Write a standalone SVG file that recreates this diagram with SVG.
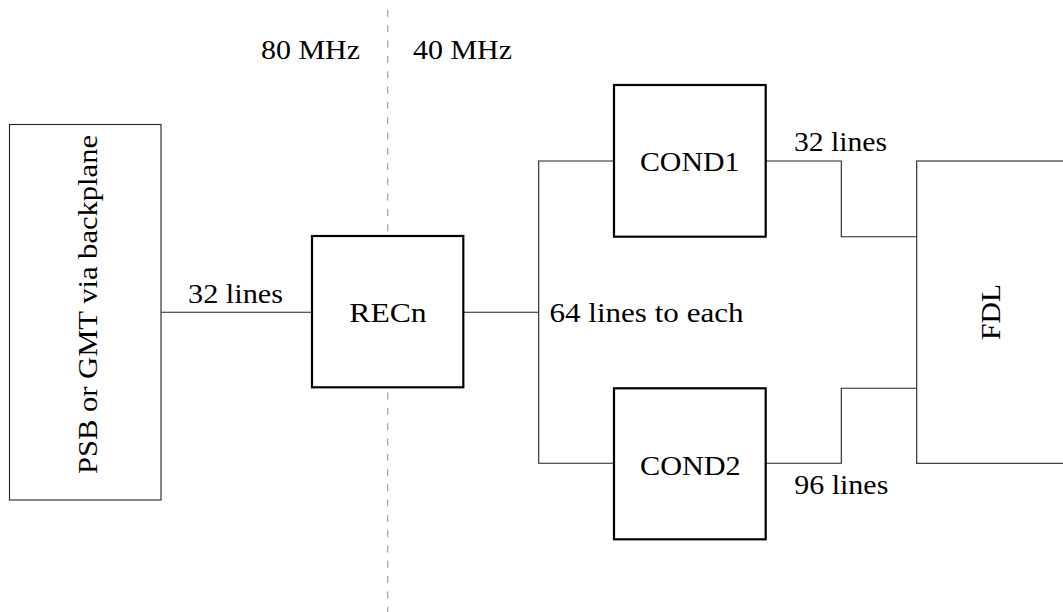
<svg xmlns="http://www.w3.org/2000/svg" width="1063" height="612" viewBox="0 0 1063 612">
<style>
  .thin { fill: none; stroke: #222; stroke-width: 1.1; }
  .thick { fill: #fff; stroke: #000; stroke-width: 2.2; }
  .box { fill: #fff; stroke: #222; stroke-width: 1.1; }
  .dash { fill: none; stroke: #999; stroke-width: 1.1; stroke-dasharray: 7 8.3; }
  .lbl { font-family: 'Liberation Serif', serif; font-size: 28px; fill: #000; }
</style>
<rect width="1063" height="612" fill="#fff"/>
<g id="divider">
  <line class="dash" x1="387.7" y1="10" x2="387.7" y2="612"/>
  <text class="lbl" x="261" y="59" textLength="99" lengthAdjust="spacingAndGlyphs">80 MHz</text>
  <text class="lbl" x="413" y="59" textLength="99" lengthAdjust="spacingAndGlyphs">40 MHz</text>
</g>
<g id="connectors">
  <line class="thin" x1="161" y1="312.3" x2="312" y2="312.3"/>
  <line class="thin" x1="463" y1="312.3" x2="538.7" y2="312.3"/>
  <polyline class="thin" points="614,161 538.7,161 538.7,463.3 614,463.3"/>
  <polyline class="thin" points="765.7,161 841.3,161 841.3,236.7 916.7,236.7"/>
  <polyline class="thin" points="765.7,463.3 841.3,463.3 841.3,388.3 916.7,388.3"/>
  <text class="lbl" x="188" y="302.5" textLength="95" lengthAdjust="spacingAndGlyphs">32 lines</text>
  <text class="lbl" x="549.5" y="322.3" textLength="194" lengthAdjust="spacingAndGlyphs">64 lines to each</text>
  <text class="lbl" x="794" y="150.7" textLength="93" lengthAdjust="spacingAndGlyphs">32 lines</text>
  <text class="lbl" x="794.3" y="494" textLength="94" lengthAdjust="spacingAndGlyphs">96 lines</text>
</g>
<g id="psb">
  <rect class="box" x="9.5" y="124.5" width="151.5" height="375.5"/>
  <text class="lbl" transform="translate(97,474) rotate(-90)" textLength="339" lengthAdjust="spacingAndGlyphs">PSB or GMT via backplane</text>
</g>
<g id="recn">
  <rect class="thick" x="312" y="236" width="151.3" height="151.3"/>
  <text class="lbl" x="349.3" y="321.7" textLength="77.4" lengthAdjust="spacingAndGlyphs">RECn</text>
</g>
<g id="cond1">
  <rect class="thick" x="614" y="85" width="151.7" height="151.7"/>
  <text class="lbl" x="640" y="171" textLength="99.3" lengthAdjust="spacingAndGlyphs">COND1</text>
</g>
<g id="cond2">
  <rect class="thick" x="614" y="388.3" width="151.7" height="151"/>
  <text class="lbl" x="640" y="475" textLength="100.7" lengthAdjust="spacingAndGlyphs">COND2</text>
</g>
<g id="fdl">
  <rect class="box" x="916.7" y="161" width="160" height="302.3"/>
  <text class="lbl" transform="translate(1000,340) rotate(-90)" textLength="56" lengthAdjust="spacingAndGlyphs">FDL</text>
</g>
</svg>
